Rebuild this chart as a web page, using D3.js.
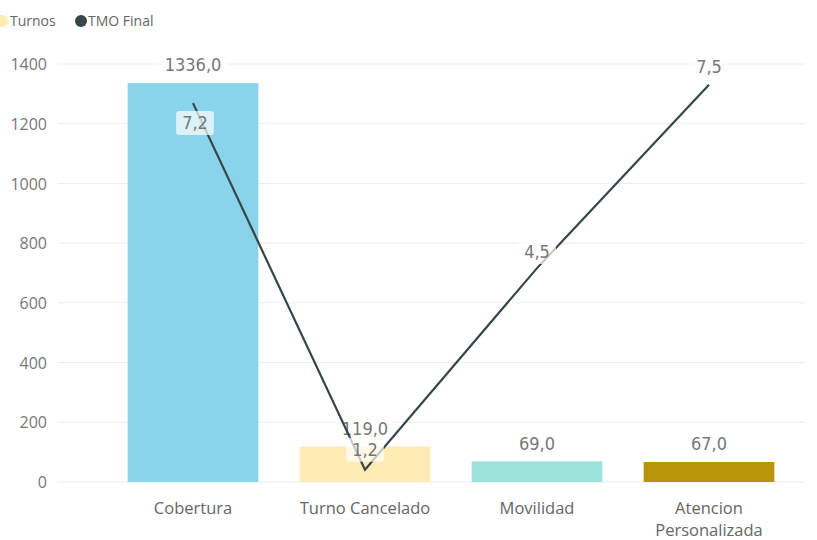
<!DOCTYPE html>
<html><head><meta charset="utf-8">
<script src="https://cdn.jsdelivr.net/npm/d3@7"></script>
<style>body{margin:0;background:#fff;} svg{display:block;}</style>
</head><body>
<svg id="c" width="817" height="540"></svg>
<script>
const categories = ["Cobertura", "Turno Cancelado", "Movilidad", "Atencion Personalizada"];
const turnos = [1336.0, 119.0, 69.0, 67.0];
const tmoFinal = [7.2, 1.2, 4.5, 7.5];
const yTicks = [0, 200, 400, 600, 800, 1000, 1200, 1400];
const barColors = ["#8AD4EB", "#FFEBB3", "#9CE3DC", "#B8960A"];
const lineColor = "#374649";

const svg = d3.select("#c");
const y = d3.scaleLinear().domain([0, 1400]).range([482, 64]);
const y2 = d3.scaleLinear().domain([1.0, 7.84]).range([482, 64]);
const x = d3.scaleBand().domain(categories).range([107, 795]).paddingInner(0.24).paddingOuter(0.12);
const fmt = v => v.toFixed(1).replace(".", ",");
const labelFont = "'DejaVu Sans', sans-serif";
const axisFont = "'Open Sans', 'Noto Sans', sans-serif";

// gridlines + y axis
const yAxis = d3.axisLeft(y).tickValues(yTicks).tickFormat(d3.format("d")).tickSize(0).tickPadding(0);
const gy = svg.append("g").attr("transform", "translate(47,0)").call(yAxis);
gy.select(".domain").remove();
gy.selectAll("text").attr("font-family", axisFont).attr("font-size", 16).attr("fill", "#777").attr("dy", "0.35em");
svg.append("g").selectAll("line").data(yTicks).join("line")
  .attr("x1", 58).attr("x2", 805).attr("y1", d => y(d)).attr("y2", d => y(d))
  .attr("stroke", "#ececec").attr("stroke-width", 1);

// bars
svg.append("g").selectAll("rect").data(turnos).join("rect")
  .attr("x", (d, i) => x(categories[i])).attr("width", x.bandwidth())
  .attr("y", d => y(d)).attr("height", d => y(0) - y(d))
  .attr("fill", (d, i) => barColors[i]);

// x axis labels
const xAxis = d3.axisBottom(x).tickSize(0).tickPadding(0);
const gx = svg.append("g").attr("transform", "translate(0,482)").call(xAxis);
gx.select(".domain").remove();
gx.selectAll("text").text(null).each(function(d) {
  const t = d3.select(this).attr("font-family", axisFont).attr("font-size", 16.5).attr("fill", "#666").attr("y", 0).attr("dy", null);
  const lines = d === "Atencion Personalizada" ? ["Atencion", "Personalizada"] : [d];
  lines.forEach((l, k) => t.append("tspan").attr("x", 0).attr("y", 32 + k * 22).text(l));
});

// label helper with translucent box
function boxLabel(g, cx, cy, txt, alpha) {
  const grp = g.append("g");
  const r = grp.append("rect");
  const t = grp.append("text").attr("x", cx).attr("y", cy).attr("dy", "0.35em")
    .attr("text-anchor", "middle").attr("font-family", labelFont).attr("font-stretch", "condensed")
    .style("font-stretch", "condensed").attr("font-size", 18)
    .attr("fill", "#777").text(txt);
  const bb = t.node().getBBox();
  r.attr("x", bb.x - 6).attr("y", cy - 12).attr("width", bb.width + 12).attr("height", 24)
    .attr("rx", 3).attr("fill", "#fff").attr("fill-opacity", alpha);
}

// bar labels
const gl = svg.append("g");
turnos.forEach((v, i) => {
  boxLabel(gl, x(categories[i]) + x.bandwidth() / 2, y(v) - 18, fmt(v), 1);
});

// line
const cx = c => x(c) + x.bandwidth() / 2;
const line = d3.line().x((d, i) => cx(categories[i])).y(d => y2(d));
svg.append("path").datum(tmoFinal).attr("d", line).attr("fill", "none")
  .attr("stroke", lineColor).attr("stroke-width", 2.2);

// line labels
const offs = [20, -20, -16, -18];
const gl2 = svg.append("g");
tmoFinal.forEach((v, i) => {
  boxLabel(gl2, cx(categories[i]) + (i === 0 ? 2 : 0), y2(v) + offs[i], fmt(v), 0.7);
});

// legend
const lg = svg.append("g").attr("font-family", axisFont).attr("font-size", 14).attr("fill", "#666");
lg.append("circle").attr("cx", 2).attr("cy", 21).attr("r", 6).attr("fill", "#FFEBB3");
lg.append("text").attr("x", 10).attr("y", 21).attr("dy", "0.35em").text("Turnos");
lg.append("circle").attr("cx", 81).attr("cy", 21).attr("r", 6).attr("fill", lineColor);
lg.append("text").attr("x", 88).attr("y", 21).attr("dy", "0.35em").text("TMO Final");
</script>
</body></html>
